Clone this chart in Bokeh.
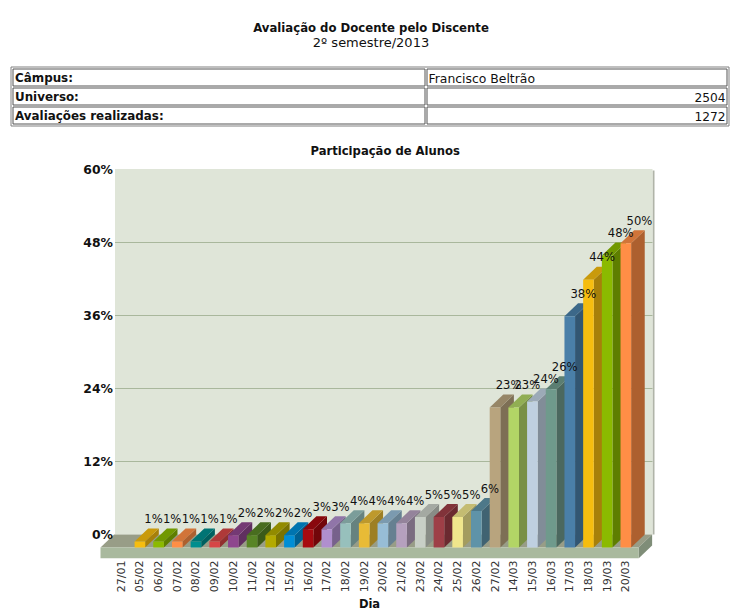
from bokeh.embed import file_html
from bokeh.resources import INLINE
from bokeh.layouts import column
from bokeh.models import (FixedTicker, LinearAxis, PrintfTickFormatter, Range1d, Title)
from bokeh.plotting import figure
from bokeh.core.properties import value

# ---------- data ----------
HEAD_TITLE = "Avaliação do Docente pelo Discente"
HEAD_SUB = "2º semestre/2013"
ROW_LABELS = ["Câmpus:", "Universo:", "Avaliações realizadas:"]
ROW_VALUES = ["Francisco Beltrão", "2504", "1272"]
CHART_TITLE = "Participação de Alunos"
X_TITLE = "Dia"
DAYS = ["27/01", "05/02", "06/02", "07/02", "08/02", "09/02", "10/02", "11/02", "12/02", "15/02",
        "16/02", "17/02", "18/02", "19/02", "20/02", "21/02", "23/02", "24/02", "25/02", "26/02",
        "27/02", "14/03", "15/03", "16/03", "17/03", "18/03", "19/03", "20/03"]
VALUES = [0, 1, 1, 1, 1, 1, 2, 2, 2, 2, 3, 3, 4, 4, 4, 4, 5, 5, 5, 6, 23, 23, 24, 26, 38, 44, 48, 50]
Y_TICKS = [0, 12, 24, 36, 48, 60]
COLORS = ["#AFD8F8", "#F6BD0F", "#8BBA00", "#FF8E46", "#008E8E", "#D64646", "#8E468E", "#588526",
          "#B3AA00", "#008ED6", "#A80A10", "#B08FCE", "#97C0BC", "#E8BB36", "#97BDD6", "#B5A0BE",
          "#C8CFC6", "#9E3F47", "#F0E68C", "#5F93A8", "#B8A47E", "#B2D566", "#BFD0E0", "#6F9A8C",
          "#4A7FA8", "#F6BD0F", "#8BBA00", "#FF8E46"]

FONT = "DejaVu Sans"
FIG_W = 736
FIG_H = 614


def shade(c, f):
    r, g, b = (int(c[i:i + 2], 16) for i in (1, 3, 5))
    return "#%02x%02x%02x" % (int(r * f), int(g * f), int(b * f))


# ---------- header (pixel coordinates, y down) ----------
H_BOT = 130
hd = figure(width=FIG_W, height=H_BOT, x_range=Range1d(0, FIG_W), y_range=Range1d(H_BOT, 0),
            toolbar_location=None, output_backend="svg", min_border=0, outline_line_color=None,
            frame_align=False)
hd.xaxis.visible = False
hd.yaxis.visible = False
hd.grid.visible = False


def htext(x, y, s, bold=False, align="left", size="12.2px", color="#111111"):
    hd.text([x], [y], text=[s], text_font=value(FONT), text_font_size=size,
            text_font_style="bold" if bold else "normal", text_align=align,
            text_baseline="middle", text_color=color)


htext(370.5, 27.5, HEAD_TITLE, True, "center", "11.7px")
htext(370.5, 41.5, HEAD_SUB, False, "center", "13px")

# table outline and cells
hd.quad(left=[10.5], right=[728.5], top=[66.5], bottom=[125.5], fill_color="white",
        line_color="#808080", line_width=1)
row_tops = [68, 87, 106]
row_bots = [85, 104, 123]
for lft, rgt in ((12.5, 424.5), (426.5, 726.5)):
    hd.quad(left=[lft] * 3, right=[rgt] * 3, top=[t + .5 for t in row_tops], bottom=[b + .5 for b in row_bots],
            fill_color=None, line_color="#555555", line_width=1)
for i, (lab, val) in enumerate(zip(ROW_LABELS, ROW_VALUES)):
    y = row_tops[i] + 9.5
    htext(14.5, y, lab, True, "left", "11.9px")
    if i == 0:
        htext(428, y, val, False, "left", "12.4px")
    else:
        htext(725, y, val, False, "right")

# ---------- chart ----------
PX_PER_UNIT_Y = 365 / 60.0         # wall: 60% spans 365 px
PX_PER_IDX = 18.69
F_L, F_R = 80, 658                 # frame in page px
F_T, F_B = 160, 558
WALL0 = 534                        # page y of 0% on the wall


def ypx(p):
    return (WALL0 - p) / PX_PER_UNIT_Y


def xpx(p):
    return (p - 120.7) / PX_PER_IDX


DX = 13.6 / PX_PER_IDX
DY = 13 / PX_PER_UNIT_Y
HW = 5.3 / PX_PER_IDX

p = figure(width=FIG_W, height=FIG_H - H_BOT, x_range=Range1d(xpx(F_L), xpx(F_R)),
           y_range=Range1d(ypx(F_B), ypx(F_T)), toolbar_location=None, output_backend="svg",
           min_border_left=F_L, min_border_right=FIG_W - F_R, min_border_top=F_T - H_BOT,
           min_border_bottom=FIG_H - F_B, outline_line_color=None, x_axis_location=None, y_axis_location=None,
           frame_align=False)
p.grid.visible = False
p.background_fill_color = "white"

ty = Title(text=CHART_TITLE, align="left", offset=310 - F_L, text_font=FONT, text_font_size="11.6px",
           text_font_style="bold", text_color="#111111", standoff=5)
p.add_layout(ty, "above")

xL, xR, yB, yT = xpx(114.5), xpx(652), ypx(WALL0), ypx(168.5)
# wall shadow + wall
p.quad(left=[xpx(652)], right=[xpx(654)], top=[ypx(170)], bottom=[ypx(534)], fill_color="#b0b4a8", line_color=None)
p.quad(left=[xL], right=[xR], top=[yT], bottom=[yB], fill_color="#dfe5d8", line_color=None)
# grid
p.segment(x0=[xL] * 4, x1=[xR] * 4, y0=Y_TICKS[1:-1], y1=Y_TICKS[1:-1], line_color="#a9b79c", line_width=1)

# floor: top, right side, front
fl, fr = xpx(100), xpx(638)
p.patch([fl, fr, fr + DX, fl + DX], [-DY, -DY, 0, 0], fill_color="#989d87", line_color=None)
p.patch([fr, fr + DX, fr + DX, fr], [-DY, 0, ypx(545), ypx(558)], fill_color="#7f8d78", line_color=None)
p.quad(left=[fl], right=[fr], top=[-DY], bottom=[ypx(558)], fill_color="#a9b99e", line_color=None)

# bars
xs_side, ys_side, col_side = [], [], []
xs_top, ys_top, col_top = [], [], []
lefts, rights, tops, cols = [], [], [], []
lab_x, lab_y, lab_t = [], [], []
for i, (v, c) in enumerate(zip(VALUES, COLORS)):
    if v == 0:
        continue
    l, r = i - HW, i + HW
    lefts.append(l); rights.append(r); tops.append(v - DY); cols.append(c)
    xs_side.append([r, r + DX, r + DX, r]); ys_side.append([-DY, 0, v, v - DY]); col_side.append(shade(c, .68))
    xs_top.append([l, r, r + DX, l + DX]); ys_top.append([v - DY, v - DY, v, v]); col_top.append(shade(c, .82))
    lab_x.append(i + DX); lab_y.append(v); lab_t.append("%d%%" % v)

p.patches(xs_side, ys_side, fill_color=col_side, line_color=None)
p.patches(xs_top, ys_top, fill_color=col_top, line_color=None)
p.quad(left=lefts, right=rights, top=tops, bottom=-DY, fill_color=cols, line_color=None)

p.text(lab_x, lab_y, text=lab_t, text_font=value(FONT), text_font_size="11.6px", text_color="#111111",
       text_align="center", text_baseline="middle", y_offset=-9.5)

# axes
xa = LinearAxis(ticker=FixedTicker(ticks=list(range(len(DAYS)))),
                major_label_overrides={i: d for i, d in enumerate(DAYS)},
                major_label_orientation=1.5708, major_label_text_font=FONT, major_label_text_font_size="11px",
                major_label_text_color="#333333", major_label_standoff=2,
                major_tick_in=0, major_tick_out=0, minor_tick_in=0, minor_tick_out=0,
                axis_line_color=None, major_tick_line_color=None, minor_tick_line_color=None,
                axis_label=X_TITLE, axis_label_text_font=FONT, axis_label_text_font_size="11.5px",
                axis_label_text_font_style="bold", axis_label_text_color="#111111", axis_label_standoff=2)
p.add_layout(xa, "below")
ya = LinearAxis(ticker=FixedTicker(ticks=Y_TICKS), formatter=PrintfTickFormatter(format="%d%%"),
                fixed_location=xL, major_label_text_font=FONT, major_label_text_font_size="12.4px",
                major_label_text_font_style="bold", major_label_text_color="#111111", major_label_standoff=2,
                major_tick_in=0, major_tick_out=0, minor_tick_in=0, minor_tick_out=0,
                axis_line_color=None, major_tick_line_color=None, minor_tick_line_color=None)
p.add_layout(ya, "left")

page = column(hd, p, spacing=0)
open("out.html", "w").write(file_html(page, INLINE))
